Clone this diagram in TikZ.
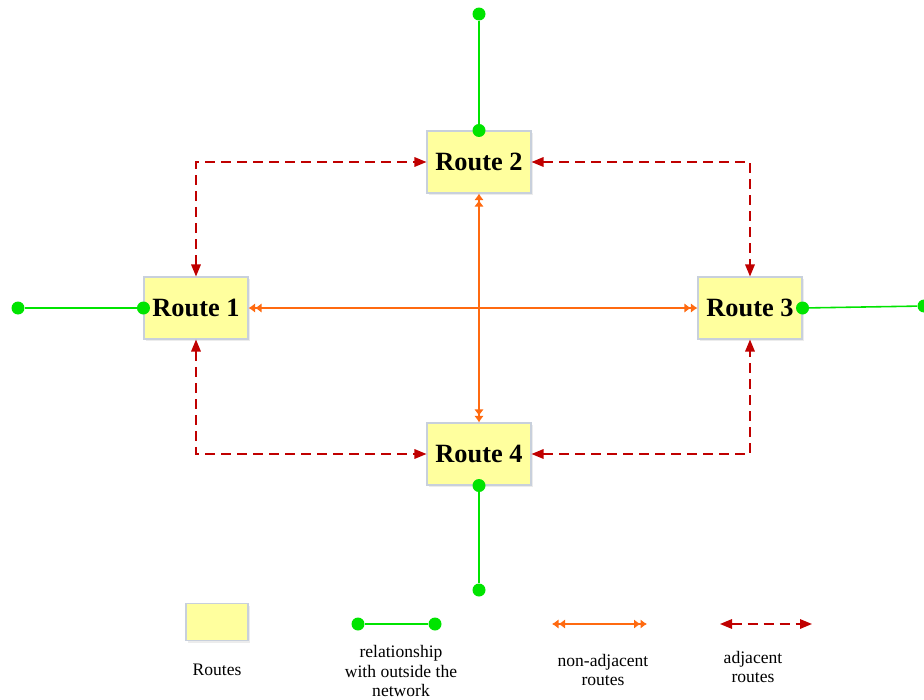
\documentclass[tikz,border=0pt]{standalone}
\usepackage{fontspec}
\setmainfont{Liberation Serif}
\usetikzlibrary{arrows.meta,shadows}
\definecolor{routefill}{HTML}{FFFF9E}
\definecolor{routeline}{HTML}{C8D0DC}
\definecolor{outgreen}{HTML}{00E400}
\definecolor{adjred}{HTML}{C00000}
\definecolor{nonorange}{HTML}{FF6A10}
\begin{document}
\begin{tikzpicture}[
    x=0.02cm, y=-0.02cm,
    route/.style={draw=routeline, fill=routefill, line width=0.6pt,
        minimum width=2.08cm, minimum height=1.24cm, inner sep=0pt,
        font=\fontsize{15}{17}\selectfont\bfseries,
        drop shadow={opacity=0.15, shadow xshift=0.04cm, shadow yshift=-0.04cm}},
    dot/.style={circle, fill=outgreen, minimum size=0.26cm, inner sep=0pt},
    outside/.style={draw=outgreen, line width=0.9pt},
    adjacent/.style={draw=adjred, line width=0.9pt, dash pattern=on 0.2cm off 0.12cm,
        {Triangle[length=0.24cm,width=0.19cm]}-{Triangle[length=0.24cm,width=0.19cm]}},
    nonadj/.style={draw=nonorange, line width=1pt,
        >={Latex[length=0.13cm,width=0.19cm]}, <<->>},
    legend text/.style={align=center, font=\fontsize{10}{11.3}\selectfont}]

\useasboundingbox (0,0) rectangle (924,700);

% routes
\node[route] (r1) at (196,308) {Route 1};
\node[route] (r2) at (479,162) {Route 2};
\node[route] (r3) at (750,308) {Route 3};
\node[route] (r4) at (479,454) {Route 4};

% relationship with outside the network
\node[dot] (o1) at (18,308) {};
\node[dot] (o2) at (479,14) {};
\node[dot] (o3) at (924,306) {};
\node[dot] (o4) at (479,590) {};
\draw[outside] (o1) -- (r1.west);
\draw[outside] (o2) -- (r2.north);
\draw[outside] (r3.east) -- (o3);
\draw[outside] (r4.south) -- (o4);
\node[dot] at (r1.west) {};
\node[dot] at (r2.north) {};
\node[dot] at (r3.east) {};
\node[dot] at (r4.south) {};

% adjacent routes
\draw[adjacent] (r1.north) |- (r2.west);
\draw[adjacent] (r2.east) -| (r3.north);
\draw[adjacent] (r1.south) |- (r4.west);
\draw[adjacent] (r4.east) -| (r3.south);

% non-adjacent routes
\draw[nonadj] (r1.east) -- (r3.west);
\draw[nonadj] (r2.south) -- (r4.north);

% legend
\node[route, minimum width=1.24cm, minimum height=0.74cm] (lr) at (217,622) {};
\node[dot] (la) at (358,624) {};
\node[dot] (lb) at (435,624) {};
\draw[outside] (la) -- (lb);
\coordinate (lc) at (552,624);
\coordinate (ld) at (647,624);
\draw[nonadj] (lc) -- (ld);
\coordinate (le) at (720,624);
\coordinate (lf) at (812,624);
\draw[adjacent] (le) -- (lf);

\node[legend text] (t1) at (217,670) {Routes};
\node[legend text] (t2) at (401,671) {relationship\\with outside the\\network};
\node[legend text] (t3) at (603,670) {non-adjacent\\routes};
\node[legend text] (t4) at (753,667) {adjacent\\routes};

\end{tikzpicture}
\end{document}
